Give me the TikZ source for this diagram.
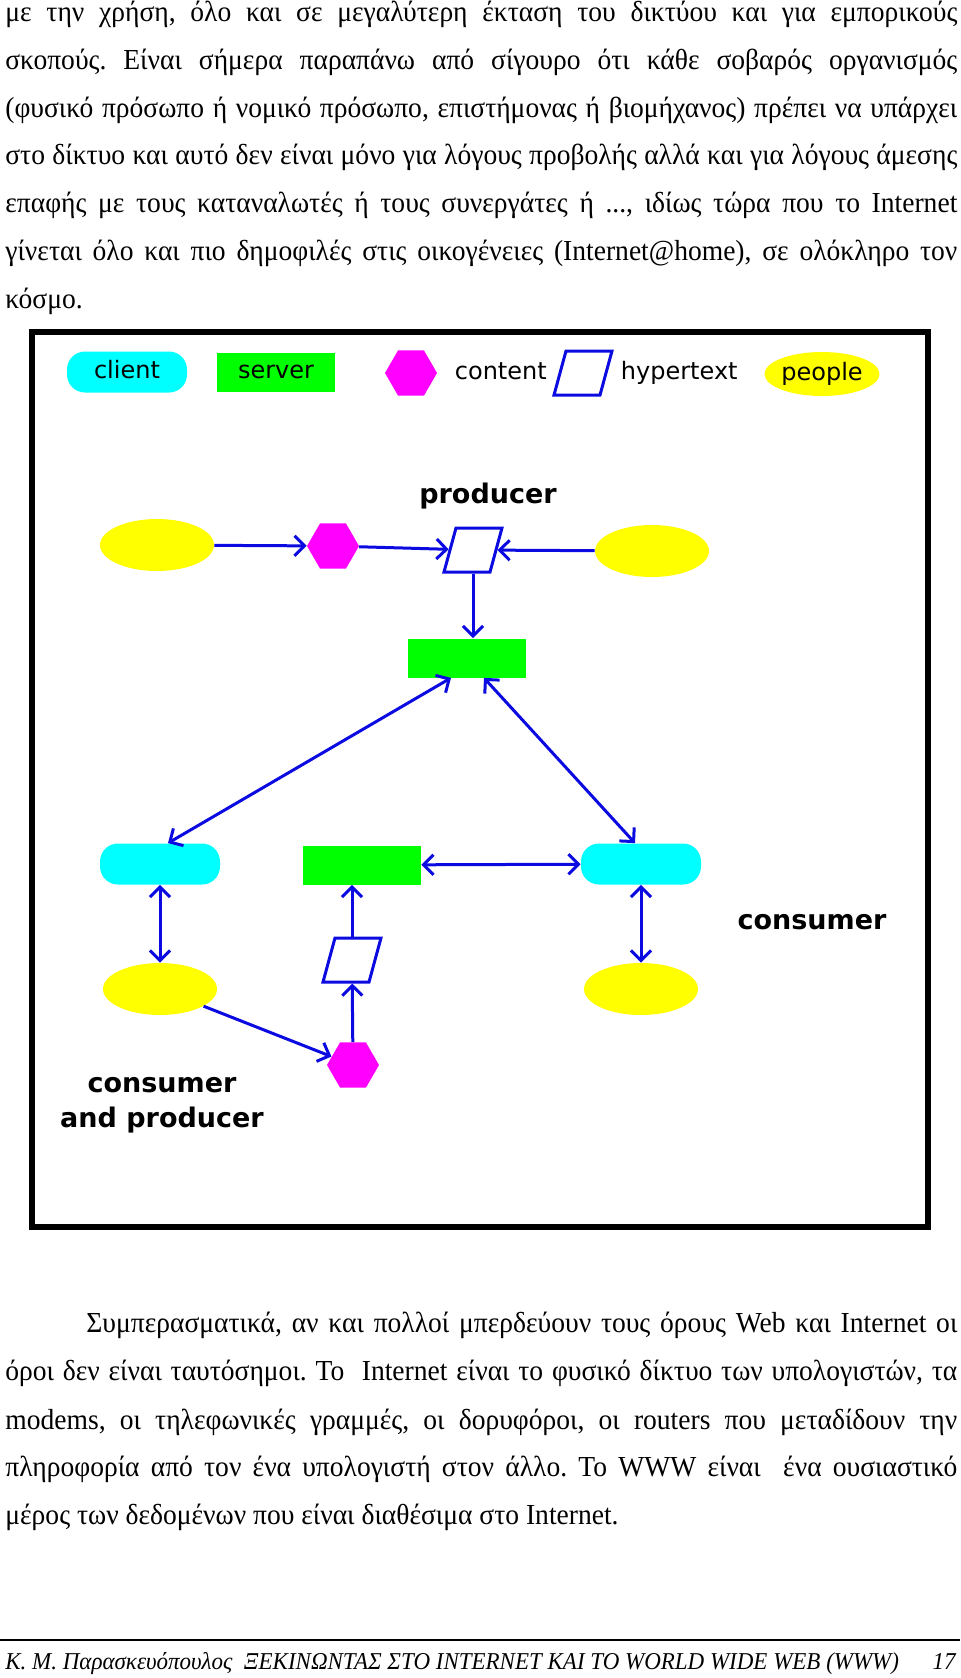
\documentclass[tikz,border=0pt]{standalone}
\usepackage{fontspec}
\setmainfont{Liberation Serif}[FakeStretch=0.95]
\newfontfamily\diagfont{DejaVu Sans}
\frenchspacing
\usetikzlibrary{positioning}
\usetikzlibrary{shapes.geometric}
\usetikzlibrary{arrows.meta}
\definecolor{clientcyan}{RGB}{0,255,255}
\definecolor{servergreen}{RGB}{0,255,0}
\definecolor{contentmagenta}{RGB}{255,0,255}
\definecolor{peopleyellow}{RGB}{255,255,0}
\definecolor{linkblue}{RGB}{10,10,225}
\tikzset{>={Straight Barb[length=5pt,width=10pt]},
textline/.style={ % one line of the page text
anchor=base west, inner sep=0pt,
font=\fontsize{14.5pt}{17pt}\selectfont},
client/.style={rectangle, rounded corners=9pt, fill=clientcyan,
minimum width=60pt, minimum height=20.5pt, inner sep=0pt},
server/.style={rectangle, fill=servergreen,
minimum width=59pt, minimum height=19.5pt, inner sep=0pt},
content/.style={regular polygon, regular polygon sides=6,
fill=contentmagenta, minimum size=26pt, inner sep=0pt},
hypertext/.style={trapezium, trapezium left angle=70,
trapezium right angle=110, trapezium stretches=true,
draw=linkblue, line width=1.5pt, fill=white,
minimum width=29pt, minimum height=22pt, inner sep=0pt},
people/.style={ellipse, fill=peopleyellow,
minimum width=57pt, minimum height=26pt, inner sep=0pt},
legendtext/.style={font=\diagfont\fontsize{12pt}{14pt}\selectfont,
inner sep=0pt, text height=9pt, text depth=2.5pt},
rolelabel/.style={font=\diagfont\bfseries\fontsize{13.5pt}{17.5pt}\selectfont,
inner sep=0pt, align=center},
every edge/.style={ % the blue links
draw, linkblue, line width=1.5pt}}
\begin{document}
\begin{tikzpicture}[x=0.5pt,y=-0.5pt]
\useasboundingbox (0,0) rectangle (960,1678);

% text above the figure
\node[textline] (t1) at (5,21) {\makebox[476pt][s]{με την χρήση, όλο και σε μεγαλύτερη έκταση του δικτύου και για εμπορικούς}};
\node[textline] (t2) at (5,69) {\makebox[476pt][s]{σκοπούς. Είναι σήμερα παραπάνω από σίγουρο ότι κάθε σοβαρός οργανισμός}};
\node[textline] (t3) at (5,117) {\makebox[476pt][s]{(φυσικό πρόσωπο ή νομικό πρόσωπο, επιστήμονας ή βιομήχανος) πρέπει να υπάρχει}};
\node[textline] (t4) at (5,164) {\makebox[476pt][s]{στο δίκτυο και αυτό δεν είναι μόνο για λόγους προβολής αλλά και για λόγους άμεσης}};
\node[textline] (t5) at (5,212) {\makebox[476pt][s]{επαφής με τους καταναλωτές ή τους συνεργάτες ή ..., ιδίως τώρα που το Internet}};
\node[textline] (t6) at (5,260) {\makebox[476pt][s]{γίνεται όλο και πιο δημοφιλές στις οικογένειες (Internet@home), σε ολόκληρο τον}};
\node[textline] (t7) at (5,308) {κόσμο.};

% figure frame
\draw[line width=3pt] (32,332) rectangle (928,1227);

% legend
\node[client, legendtext] (kclient) at (127,372) {client};
\node[server, legendtext] (kserver) at (276,372) {server};
\node[content] (kcontent) at (411,373) {};
\node[legendtext, right=8.5pt of kcontent] (kcontenttext) {content};
\node[hypertext] (khyper) at (583,373) {\phantom{x}};
\node[legendtext, right=6.5pt of khyper] (khypertext) {hypertext};
\node[people, legendtext, minimum width=55pt, minimum height=22pt] (kpeople) at (822,374) {people};

% producer
\node[rolelabel] (producer) at (488,496) {producer};
\node[people] (ppeoplea) at (157,545) {};
\node[content] (pcontent) at (333,546) {};
\node[hypertext] (phyper) at (473,550) {\phantom{x}};
\node[people] (ppeopleb) at (652,551) {};
\node[server] (pserver) at (467,658) {};

% consumer
\node[client] (lclient) at (160,864) {};
\node[server] (mserver) at (362,865) {};
\node[client] (rclient) at (641,864) {};
\node[rolelabel] (consumer) at (812,922) {consumer};
\node[hypertext] (mhyper) at (352,960) {\phantom{x}};
\node[people] (lpeople) at (160,989) {};
\node[people] (rpeople) at (641,989) {};
\node[content] (mcontent) at (353,1065) {};
\node[rolelabel] (both) at (162,1105) {consumer\\and producer};

\draw (ppeoplea) edge[->] (pcontent);
\draw (pcontent) edge[->] (phyper);
\draw (ppeopleb) edge[->] (phyper);
\draw (phyper.south) edge[->] (phyper.south |- pserver.north);
\draw ([xshift=-8pt]pserver.south) edge[<->] ([xshift=4pt]lclient.north);
\draw ([xshift=8.5pt]pserver.south) edge[<->] ([xshift=-3pt]rclient.north);
\draw (mserver) edge[<->] (rclient);
\draw (lclient) edge[<->] (lpeople);
\draw (rclient) edge[<->] (rpeople);
\draw (mhyper.north) edge[->] (mhyper.north |- mserver.south);
\draw (mcontent) edge[->] (mhyper);
\draw (lpeople) edge[->] (mcontent);

% text below the figure
\node[textline] (b1) at (86,1332) {\makebox[435.5pt][s]{Συμπερασματικά, αν και πολλοί μπερδεύουν τους όρους Web και Internet οι}};
\node[textline] (b2) at (5,1380) {\makebox[476pt][s]{όροι δεν είναι ταυτόσημοι. Το~ Internet είναι το φυσικό δίκτυο των υπολογιστών, τα}};
\node[textline] (b3) at (5,1429) {\makebox[476pt][s]{modems, οι τηλεφωνικές γραμμές, οι δορυφόροι, οι routers που μεταδίδουν την}};
\node[textline] (b4) at (5,1476) {\makebox[476pt][s]{πληροφορία από τον ένα υπολογιστή στον άλλο. Το WWW είναι~ ένα ουσιαστικό}};
\node[textline] (b5) at (5,1524) {μέρος των δεδομένων που είναι διαθέσιμα στο Internet.};

% footer
\draw[line width=1pt] (0,1640) -- (960,1640);
\node[anchor=base west, inner sep=0pt, font=\itshape\fontsize{12.1pt}{14pt}\selectfont] (footer) at (5,1669) {Κ. Μ. Παρασκευόπουλος\ \ ΞΕΚΙΝΩΝΤΑΣ ΣΤΟ INTERNET ΚΑΙ ΤΟ WORLD WIDE WEB (WWW)};
\node[anchor=base east, inner sep=0pt, font=\itshape\fontsize{12.1pt}{14pt}\selectfont] (pageno) at (956,1669) {17};
\end{tikzpicture}
\end{document}
